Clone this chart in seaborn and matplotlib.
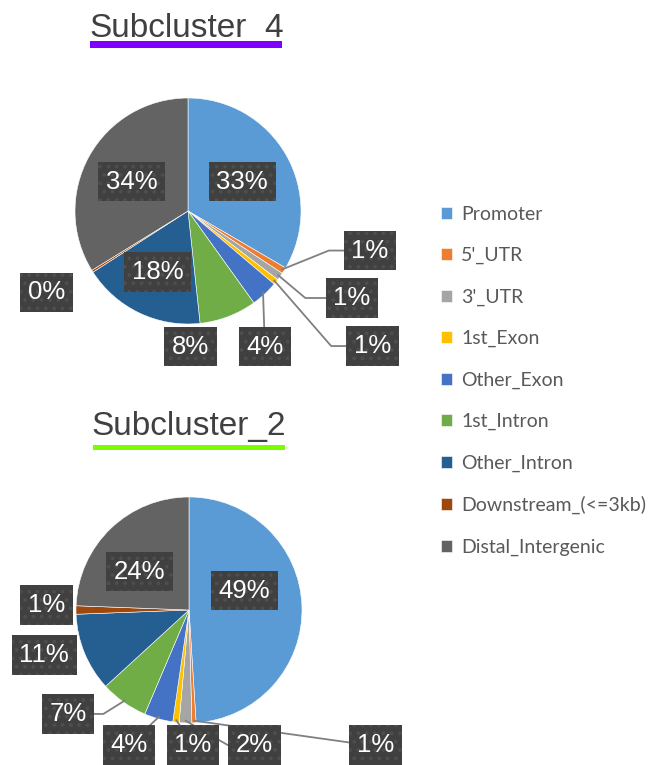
import numpy as np
import matplotlib.pyplot as plt
import seaborn as sns
from matplotlib.patches import Rectangle

# peak annotation shares (%) per subcluster
categories = ["Promoter", "5'_UTR", "3'_UTR", "1st_Exon", "Other_Exon",
              "1st_Intron", "Other_Intron", "Downstream_(<=3kb)", "Distal_Intergenic"]
sub4_pct = [33.4, 0.9, 1.1, 0.8, 3.9, 8.2, 17.6, 0.3, 33.8]
sub2_pct = [49.0, 0.6, 1.8, 0.9, 4.1, 6.8, 11.2, 1.2, 24.4]

colors = sns.color_palette(["#5B9BD5", "#ED7D31", "#A5A5A5", "#FFC000", "#4472C4",
                            "#70AD47", "#255E91", "#9E480E", "#636363"])

sns.set_style("white")
plt.rcParams['font.family'] = ['Liberation Sans', 'DejaVu Sans']
plt.rcParams['hatch.linewidth'] = 1.5

W, H = 648, 765
R = 113  # pie radius in px

# label placement (in pie radii) and leader style: None, 'line' or an angle
lab4 = [(0.48, 0.26, None), (1.61, -0.35, 22), (1.45, -0.77, -40), (1.63, -1.195, -49),
        (0.68, -1.20, 'line'), (0.02, -1.20, None), (-0.27, -0.54, None),
        (-1.25, -0.72, None), (-0.50, 0.26, None)]
lab2 = [(0.49, 0.17, None), (1.65, -1.195, -8), (0.58, -1.195, -30), (0.035, -1.195, 'line'),
        (-0.53, -1.195, 'line'), (-1.07, -0.92, 32), (-1.28, -0.40, None),
        (-1.26, 0.045, None), (-0.44, 0.34, None)]

fig = plt.figure(figsize=(W / 100, H / 100), dpi=100)


def draw_pie(vals, labs, top, bottom, cx, cy):
    ax = fig.add_axes([0, 1 - bottom / H, 1, (bottom - top) / H])
    wedges, _ = ax.pie(vals, colors=colors, startangle=90, counterclock=False,
                       wedgeprops=dict(linewidth=0.4, edgecolor='white'))
    ax.set_aspect('auto')
    ax.set_xlim(-cx / R, (W - cx) / R)
    ax.set_ylim(-(bottom - cy) / R, (cy - top) / R)
    ax.axis('off')
    for w, v, (lx, ly, lead) in zip(wedges, vals, labs):
        mid = np.deg2rad((w.theta1 + w.theta2) / 2)
        anchor = (0.98 * np.cos(mid), 0.98 * np.sin(mid))
        box = dict(boxstyle='square,pad=0.3', fc='#404040', ec='#4e4e4e', lw=0, hatch='..')
        if lead is None:
            arrow = None
        elif lead == 'line':
            arrow = dict(arrowstyle='-', color='#808080', lw=1.3, shrinkA=0, shrinkB=0)
        else:
            arrow = dict(arrowstyle='-', color='#808080', lw=1.3, shrinkA=0, shrinkB=0,
                         connectionstyle=f'angle,angleA=0,angleB={lead},rad=0')
        ax.annotate(f'{v:.0f}%', xy=anchor, xytext=(lx, ly), ha='center', va='center',
                    fontsize=18.5, color='white', bbox=box, arrowprops=arrow, zorder=5)
    return wedges


wedges = draw_pie(sub4_pct, lab4, 0, 400, 188, 211)
draw_pie(sub2_pct, lab2, 400, 765, 189, 610)

# titles with coloured underline
fig.text(187 / W, 1 - 28 / H, 'Subcluster_4', ha='center', va='center',
         fontsize=24, color='#404040')
fig.add_artist(Rectangle((90 / W, 1 - 48 / H), 192 / W, 7 / H, transform=fig.transFigure,
                         color='#8000FF', lw=0, zorder=10))
fig.text(189 / W, 1 - 427 / H, 'Subcluster_2', ha='center', va='center',
         fontsize=24, color='#404040')
fig.add_artist(Rectangle((93 / W, 1 - 450 / H), 192 / W, 5 / H, transform=fig.transFigure,
                         color='#7CFC00', lw=0, zorder=10))

fig.legend(wedges, categories, loc='upper left', bbox_to_anchor=(441 / W, 1 - 206 / H),
           frameon=False, borderpad=0, borderaxespad=0, handlelength=0.55, handleheight=0.55,
           handletextpad=0.5, labelspacing=1.245,
           prop=dict(family='Lato', size=14), labelcolor='#595959')

fig.savefig('out.png', dpi=100)
